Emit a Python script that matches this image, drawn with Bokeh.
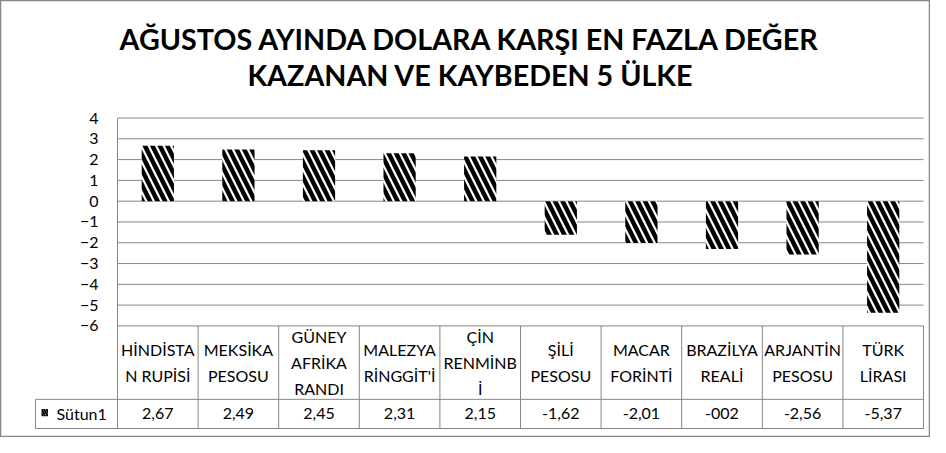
from bokeh.plotting import figure
from bokeh.models import Range1d, FixedTicker
from bokeh.embed import file_html
from bokeh.resources import INLINE
from bokeh.core.properties import value

# ---------------- data ----------------
title_lines = ["AĞUSTOS AYINDA DOLARA KARŞI EN FAZLA DEĞER",
               "KAZANAN VE KAYBEDEN 5 ÜLKE"]
categories = ["HİNDİSTA\nN RUPİSİ", "MEKSİKA\nPESOSU", "GÜNEY\nAFRİKA\nRANDI",
              "MALEZYA\nRİNGGİT'İ", "ÇİN\nRENMİNB\nİ", "ŞİLİ\nPESOSU",
              "MACAR\nFORİNTİ", "BRAZİLYA\nREALİ", "ARJANTİN\nPESOSU", "TÜRK\nLİRASI"]
values = [2.67, 2.49, 2.45, 2.31, 2.15, -1.62, -2.01, -2.30, -2.56, -5.37]
table_labels = ["2,67", "2,49", "2,45", "2,31", "2,15",
                "-1,62", "-2,01", "-002", "-2,56", "-5,37"]
series_name = "Sütun1"
y_ticks = [4, 3, 2, 1, 0, -1, -2, -3, -4, -5, -6]

# ---------------- layout constants (reference pixels) ----------------
W, H = 930, 437
REF_LEFT, REF_RIGHT = 0.0, 930.0
REF_TOP, REF_BOT = 2.4, 451.2
X0, PXC = 117.0, 80.6      # plot-area left edge, px per category
Y0, PXY = 208.5, 21.35     # zero line, px per unit
TABLE_MID, TABLE_VAL, TABLE_BOT = 412.0, 427.0, 442.0
KEY_LEFT = 35.0
GRID = "#868686"
FONT = value("Lato")

def px_x(X):
    return (X - X0) / PXC

def px_y(Y):
    return (Y0 - Y) / PXY

n = len(categories)
centers = [i + 0.5 for i in range(n)]

p = figure(width=W, height=H, output_backend="svg", toolbar_location=None,
           x_range=Range1d(px_x(REF_LEFT), px_x(REF_RIGHT)),
           y_range=Range1d(px_y(REF_BOT), px_y(REF_TOP)),
           min_border=0, x_axis_location=None)
p.grid.visible = False
p.outline_line_color = GRID
p.outline_line_width = 1.5
p.background_fill_color = "white"
p.border_fill_color = "white"

ymin = min(y_ticks)
ymax = max(y_ticks)

# gridlines
p.segment(x0=[0] * len(y_ticks), x1=[n] * len(y_ticks), y0=y_ticks, y1=y_ticks,
          line_color=GRID, line_width=1)

# data table lines
row_lines = [px_y(TABLE_MID), px_y(TABLE_BOT)]
p.segment(x0=[px_x(KEY_LEFT)] * 2, x1=[n] * 2, y0=row_lines, y1=row_lines,
          line_color=GRID, line_width=1)
p.segment(x0=list(range(1, n + 1)), x1=list(range(1, n + 1)),
          y0=[ymin] * n, y1=[px_y(TABLE_BOT)] * n, line_color=GRID, line_width=1)
p.segment(x0=[px_x(KEY_LEFT)], x1=[px_x(KEY_LEFT)], y0=[px_y(TABLE_MID)],
          y1=[px_y(TABLE_BOT)], line_color=GRID, line_width=1)

# bars
p.vbar(x=centers, top=values, bottom=0, width=0.4, fill_color="white",
       line_color=None, hatch_pattern="left_diagonal_line", hatch_color="black",
       hatch_weight=4.5, hatch_scale=15)

# y axis
ax = p.yaxis[0]
ax.fixed_location = 0
ax.bounds = (px_y(TABLE_BOT), ymax)
ax.ticker = FixedTicker(ticks=y_ticks)
ax.axis_line_color = GRID
ax.major_tick_line_color = None
ax.minor_tick_line_color = None
ax.major_tick_out = 0
ax.major_label_standoff = 19
ax.major_label_text_font = "Lato"
ax.major_label_text_font_size = "16px"
ax.major_label_text_color = "black"

# title
p.text(x=[px_x(470)] * 2, y=[px_y(41.5), px_y(78.5)], text=title_lines,
       text_font=FONT, text_font_style="bold", text_font_size="28.7px",
       text_align="center", text_baseline="middle", text_color="black")

# table texts
cat_mid = (Y0 - ymin * PXY + TABLE_MID) / 2
p.text(x=centers, y=[px_y(cat_mid)] * n, text=categories,
       text_font=FONT, text_font_size="16px", text_align="center",
       text_baseline="middle", text_line_height=1.38, text_color="black")
p.text(x=centers, y=[px_y(TABLE_VAL)] * n, text=table_labels,
       text_font=FONT, text_font_size="16px", text_align="center",
       text_baseline="middle", text_color="black")

# legend key + series name
p.quad(left=[px_x(41)], right=[px_x(47.5)], top=[px_y(422)], bottom=[px_y(429.5)],
       fill_color="white", line_color=None, hatch_pattern="left_diagonal_line",
       hatch_color="black", hatch_weight=2, hatch_scale=5)
p.text(x=[px_x(56)], y=[px_y(TABLE_VAL)], text=[series_name],
       text_font=FONT, text_font_size="16px", text_align="left",
       text_baseline="middle", text_color="black")

open("out.html", "w").write(file_html(p, INLINE))
